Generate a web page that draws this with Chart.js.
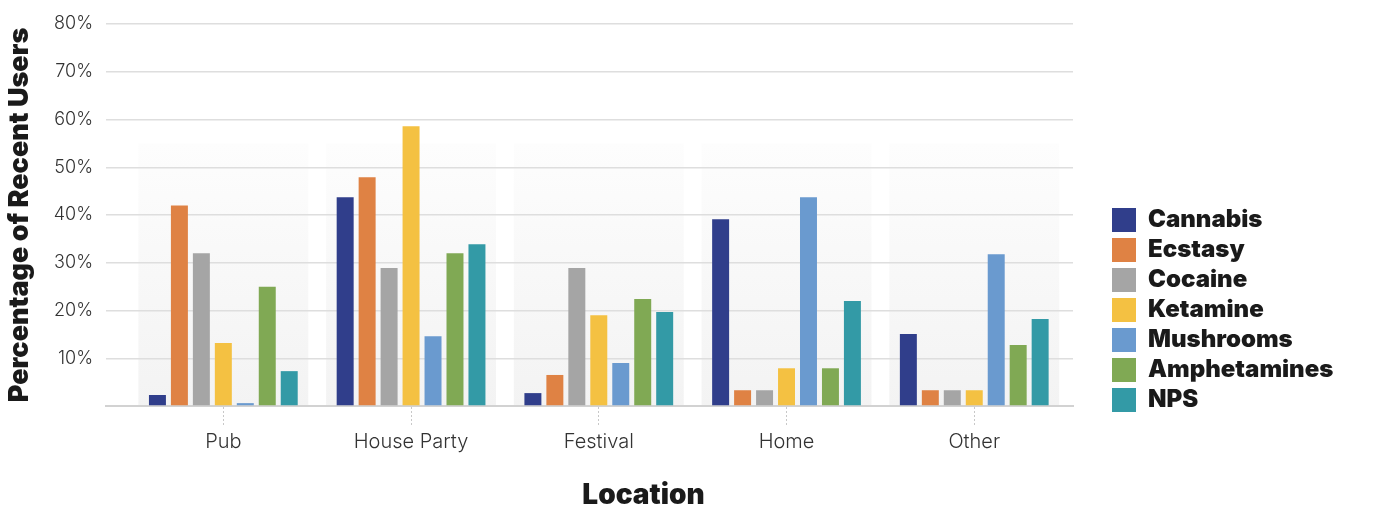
<!DOCTYPE html>
<html>
<head>
<meta charset="utf-8">
<script src="https://cdn.jsdelivr.net/npm/chart.js@4.4.1/dist/chart.umd.min.js"></script>
<style>
html,body{margin:0;padding:0;background:#ffffff;}
canvas{display:block;}
</style>
</head>
<body>
<canvas id="c" width="1381" height="510"></canvas>
<script>
// ---- data ----
const categories = ['Pub', 'House Party', 'Festival', 'Home', 'Other'];
const seriesNames = ['Cannabis', 'Ecstasy', 'Cocaine', 'Ketamine', 'Mushrooms', 'Amphetamines', 'NPS'];
const cannabis     = [2.3, 43.7, 2.7, 39.1, 15.1];
const ecstasy      = [42.0, 47.9, 6.5, 3.3, 3.3];
const cocaine      = [32.0, 28.9, 28.9, 3.3, 3.3];
const ketamine     = [13.2, 58.6, 19.0, 7.9, 3.3];
const mushrooms    = [0.6, 14.6, 9.0, 43.7, 31.8];
const amphetamines = [25.0, 32.0, 22.4, 7.9, 12.8];
const nps          = [7.3, 33.9, 19.7, 22.0, 18.2];
const yTickValues  = [10, 20, 30, 40, 50, 60, 70, 80];
const yTitle = 'Percentage of Recent Users';
const xTitle = 'Location';

// ---- styles ----
const seriesColors = ['#303E8B', '#DF8244', '#A5A5A5', '#F4C142', '#6A9ACF', '#80A954', '#339AA6'];
const seriesValues = [cannabis, ecstasy, cocaine, ketamine, mushrooms, amphetamines, nps];
const FONT = 'Inter';
const TEXT = '#1a1a1a';

const datasets = seriesNames.map((name, i) => ({
  label: name,
  data: seriesValues[i],
  backgroundColor: seriesColors[i],
  borderWidth: 0,
  barPercentage: 0.773,
  categoryPercentage: 0.819
}));

const tweaks = {
  id: 'tweaks',
  beforeLayout(chart) {
    const lg = chart.legend;
    if (lg && !lg._patched) {
      const f = lg.fit;
      lg.fit = function () { f.call(this); this.width = 275; };
      lg._patched = true;
    }
  },
  afterLayout(chart) {
    const x = chart.scales.x;
    const padL = 0.125, padR = 0.026;
    x._startValue = -0.5 - padL;
    x._valueRange = categories.length + padL + padR;
  },
  beforeDraw(chart) {
    const {ctx, scales: {x, y}} = chart;
    const step = x.getPixelForValue(1) - x.getPixelForValue(0);
    const w = step * 0.905;
    const top = y.getPixelForValue(55);
    const bottom = y.getPixelForValue(0);
    ctx.save();
    const g = ctx.createLinearGradient(0, top, 0, bottom);
    g.addColorStop(0, '#fdfdfd');
    g.addColorStop(1, '#f3f3f3');
    ctx.fillStyle = g;
    categories.forEach((c, i) => {
      const cx = x.getPixelForValue(i);
      ctx.fillRect(cx - w / 2, top, w, bottom - top);
    });
    ctx.restore();
  },
  afterDraw(chart) {
    const {ctx, chartArea} = chart;
    ctx.save();
    ctx.font = '900 28px ' + FONT;
    ctx.fillStyle = TEXT;
    ctx.textAlign = 'center';
    ctx.textBaseline = 'middle';
    ctx.fillText(xTitle, (chartArea.left + chartArea.right) / 2 + 54, chartArea.bottom + 90);
    ctx.restore();
  }
};

new Chart(document.getElementById('c'), {
  type: 'bar',
  data: { labels: categories, datasets },
  options: {
    responsive: false,
    animation: false,
    layout: { padding: { top: 24, left: 0, right: 0, bottom: 0 } },
    plugins: {
      tooltip: { enabled: false },
      legend: {
        position: 'right',
        align: 'start',
        title: { display: true, text: '', font: { size: 10, lineHeight: 1 }, padding: { top: 168, bottom: 0 } },
        labels: {
          boxWidth: 24,
          boxHeight: 24,
          padding: 6,
          color: TEXT,
          font: { family: FONT, size: 24, weight: '900' }
        }
      }
    },
    scales: {
      x: {
        grid: {
          display: true,
          offset: false,
          drawOnChartArea: false,
          drawTicks: true,
          tickLength: 20,
          tickColor: '#c8c8c8',
          tickBorderDash: [2, 2],
          tickWidth: 1
        },
        border: { display: true, color: '#d2d2d2', width: 2 },
        ticks: {
          autoSkip: false,
          maxRotation: 0,
          padding: 4,
          color: '#333333',
          font: { family: FONT, size: 20, weight: '300' }
        },
        afterFit(s) { s.height = 104; }
      },
      y: {
        min: 0,
        max: 80,
        afterBuildTicks(s) { s.ticks = [0].concat(yTickValues).map(v => ({ value: v })); },
        grid: {
          drawTicks: false,
          color: '#dedede',
          lineWidth: 1.5
        },
        border: { display: false },
        ticks: {
          padding: 13,
          color: '#333333',
          font: { family: FONT, size: 18, weight: '300' },
          callback: (v) => (v === 0 ? '' : v + '%')
        },
        title: {
          display: true,
          text: yTitle,
          color: TEXT,
          font: { family: FONT, size: 27, weight: '900' },
          padding: { top: 4, bottom: 0 }
        },
        afterFit(s) { s.width = 106; }
      },
      yR: {
        type: 'linear',
        position: 'right',
        display: true,
        grid: { display: false },
        border: { display: false },
        ticks: { display: false },
        afterFit(s) { s.width = 33; }
      }
    }
  },
  plugins: [tweaks]
});
</script>
</body>
</html>
